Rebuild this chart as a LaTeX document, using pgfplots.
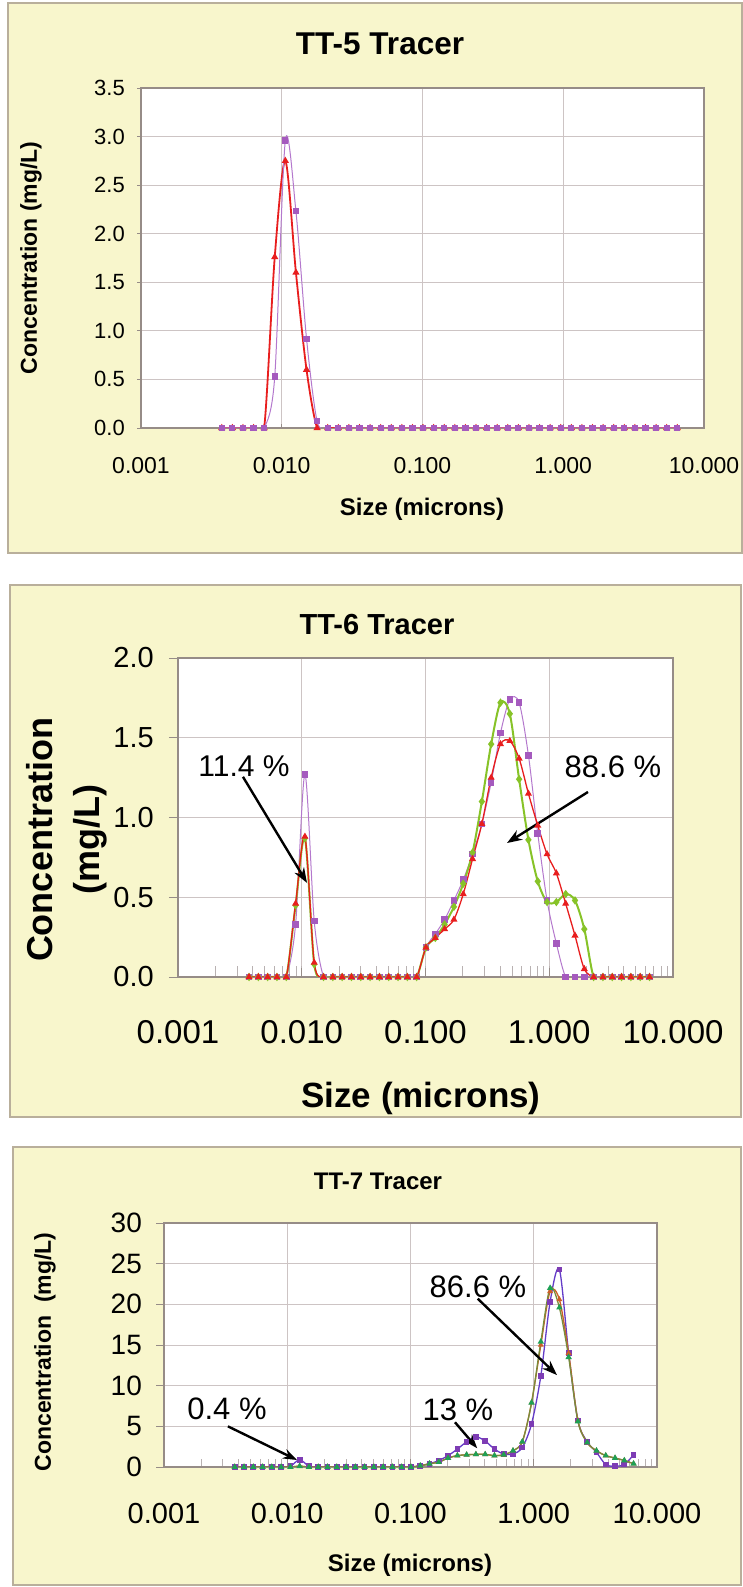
\documentclass[border=0pt]{standalone}
\usepackage{fontspec}
\setmainfont{Liberation Sans}
\usepackage{pgfplots}
\usepackage{pgfplotstable}
\pgfplotsset{compat=1.18}
\usetikzlibrary{arrows.meta}

\definecolor{panelbg}{RGB}{248,246,204}
\definecolor{panelrule}{RGB}{185,175,155}
\definecolor{gridc}{RGB}{205,196,196}
\definecolor{axisc}{RGB}{150,140,135}
\definecolor{minorc}{RGB}{185,178,178}
\definecolor{purpA}{RGB}{180,120,205}
\definecolor{purpAm}{RGB}{165,90,190}
\definecolor{redA}{RGB}{232,30,30}
\definecolor{greenB}{RGB}{135,195,40}
\definecolor{violetC}{RGB}{100,60,200}
\definecolor{violetCm}{RGB}{125,60,180}
\definecolor{greenC}{RGB}{30,160,85}
\definecolor{redC}{RGB}{205,95,40}
\definecolor{oliveC}{RGB}{120,140,60}

\newcommand{\fs}[1]{\fontsize{#1}{#1}\selectfont}

% size classes (microns) and concentrations (mg/L)
\pgfplotstableread{
x        p     r
0.00375  0     0
0.00446  0     0
0.005303 0     0
0.006307 0     0
0.0075   0     0
0.008919 0.53  1.76
0.010607 2.96  2.75
0.012613 2.23  1.60
0.015    0.92  0.60
0.017838 0.07  0
0.021213 0     0
0.025227 0     0
0.03     0     0
0.035676 0     0
0.042426 0     0
0.050454 0     0
0.06     0     0
0.071352 0     0
0.084853 0     0
0.100907 0     0
0.12     0     0
0.142705 0     0
0.169706 0     0
0.201815 0     0
0.24     0     0
0.28541  0     0
0.339411 0     0
0.403631 0     0
0.48     0     0
0.57082  0     0
0.678823 0     0
0.807261 0     0
0.96     0     0
1.14164  0     0
1.357645 0     0
1.614523 0     0
1.92     0     0
2.28328  0     0
2.71529  0     0
3.229046 0     0
3.84     0     0
4.56656  0     0
5.43058  0     0
6.458092 0     0
}\tabA

\pgfplotstableread{
x        p     r     g
0.00375  0     0     0
0.00446  0     0     0
0.005303 0     0     0
0.006307 0     0     0
0.0075   0     0     0
0.008919 0.33  0.46  0.45
0.010607 1.27  0.88  0.87
0.012613 0.35  0.09  0.08
0.015    0     0     0
0.017838 0     0     0
0.021213 0     0     0
0.025227 0     0     0
0.03     0     0     0
0.035676 0     0     0
0.042426 0     0     0
0.050454 0     0     0
0.06     0     0     0
0.071352 0     0     0
0.084853 0     0     0
0.100907 0.185 0.185 0.185
0.12     0.27  0.245 0.245
0.142705 0.36  0.30  0.33
0.169706 0.48  0.36  0.44
0.201815 0.61  0.52  0.585
0.24     0.77  0.74  0.78
0.28541  0.96  0.96  1.10
0.339411 1.22  1.25  1.46
0.403631 1.53  1.46  1.72
0.48     1.74  1.48  1.65
0.57082  1.72  1.37  1.24
0.678823 1.39  1.15  0.86
0.807261 0.90  0.95  0.60
0.96     0.48  0.77  0.47
1.14164  0.21  0.65  0.47
1.357645 0     0.46  0.52
1.614523 0     0.26  0.48
1.92     0     0.05  0.30
2.28328  0     0     0
2.71529  0     0     0
3.229046 0     0     0
3.84     0     0     0
4.56656  0     0     0
5.43058  0     0     0
6.458092 0     0     0
}\tabB

\pgfplotstableread{
x        v     r     g
0.00375  0     0     0
0.00446  0     0     0
0.005303 0     0     0
0.006307 0     0     0
0.0075   0     0     0
0.008919 0     0     0
0.010607 0.1   0     0
0.012613 0.9   0.1   0.1
0.015    0.1   0     0
0.017838 0     0     0
0.021213 0     0     0
0.025227 0     0     0
0.03     0     0     0
0.035676 0     0     0
0.042426 0     0     0
0.050454 0     0     0
0.06     0     0     0
0.071352 0     0     0
0.084853 0     0     0
0.100907 0     0     0
0.12     0.15  0.15  0.15
0.142705 0.4   0.4   0.4
0.169706 0.8   0.6   0.6
0.201815 1.4   1.1   1.1
0.24     2.2   1.4   1.4
0.28541  3.1   1.5   1.5
0.339411 3.7   1.55  1.55
0.403631 3.2   1.55  1.55
0.48     2.2   1.4   1.4
0.57082  1.6   1.5   1.5
0.678823 1.6   2.0   2.0
0.807261 2.4   3.1   3.1
0.96     5.3   7.9   7.9
1.14164  11.2  15.0  15.4
1.357645 20.3  21.6  22.0
1.614523 24.3  20.6  19.6
1.92     14.0  14.0  13.5
2.28328  5.7   5.7   5.6
2.71529  3.1   3.0   3.0
3.229046 1.8   2.0   2.0
3.84     0.3   1.4   1.4
4.56656  0.1   1.1   1.1
5.43058  0.3   0.8   0.8
6.458092 1.5   0.4   0.4
}\tabC

\begin{document}
\begin{tikzpicture}
\useasboundingbox (0pt,0pt) rectangle (743pt,1587pt);

% panel backgrounds
\filldraw[fill=panelbg, draw=panelrule, line width=1.5pt] (8pt,1034pt) rectangle (742pt,1584pt);
\filldraw[fill=panelbg, draw=panelrule, line width=1.5pt] (10pt,470pt) rectangle (741pt,1002pt);
\filldraw[fill=panelbg, draw=panelrule, line width=1.5pt] (13pt,2pt) rectangle (741pt,440pt);

% ---------- TT-5 ----------
\begin{axis}[
  scale only axis, anchor=south west,
  at={(141pt,1159pt)}, width=563pt, height=340pt,
  xmode=log, xmin=0.001, xmax=10, ymin=0, ymax=3.5,
  xtick={0.001,0.01,0.1,1,10},
  xticklabels={0.001,0.010,0.100,1.000,10.000},
  ytick={0,0.5,1,1.5,2,2.5,3,3.5},
  yticklabels={0.0,0.5,1.0,1.5,2.0,2.5,3.0,3.5},
  grid=major,
  major grid style={draw=gridc, line width=0.9pt},
  axis line style={draw=axisc, line width=1.2pt},
  axis background/.style={fill=white},
  xtick pos=bottom, ytick pos=left,
  tick style={draw=axisc, line width=0.8pt},
  xtick align=inside, ytick align=outside,
  major tick length=4pt, minor tick length=0pt,
  xticklabel style={font=\fs{23}, anchor=base, yshift=-46pt},
  yticklabel style={font=\fs{22}, anchor=east, inner sep=0pt, xshift=-12pt},
]
\addplot[redA, line width=1.8pt, smooth, tension=0.5, mark=triangle*, mark size=2.4pt,
  mark options={solid, fill=redA, draw=redA}] table[x=x, y=r]{\tabA};
\addplot[purpA, line width=1pt, smooth, tension=0.5, mark=square*, mark size=2.6pt,
  mark options={solid, fill=purpAm, draw=purpAm}] table[x=x, y=p]{\tabA};
\end{axis}
\node[anchor=base, font=\bfseries\fs{31.5}] at (380pt,1532pt) {TT-5 Tracer};
\node[anchor=base, font=\bfseries\fs{24}] at (422pt,1071pt) {Size (microns)};
\node[rotate=90, font=\bfseries\fs{23}] at (31pt,1329pt) {Concentration (mg/L)};

% ---------- TT-6 ----------
\begin{axis}[
  scale only axis, anchor=south west,
  at={(178pt,610pt)}, width=495pt, height=319pt,
  xmode=log, xmin=0.001, xmax=10, ymin=0, ymax=2,
  xtick={0.001,0.01,0.1,1,10},
  xticklabels={0.001,0.010,0.100,1.000,10.000},
  ytick={0,0.5,1,1.5,2},
  yticklabels={0.0,0.5,1.0,1.5,2.0},
  grid=major,
  major grid style={draw=gridc, line width=0.9pt},
  axis line style={draw=axisc, line width=1.2pt},
  axis background/.style={fill=white},
  xtick pos=bottom, ytick pos=left,
  tick style={draw=axisc, line width=0.8pt},
  minor tick style={draw=minorc, line width=0.8pt},
  xtick align=inside, ytick align=outside,
  major tick length=9pt, minor tick length=11pt,
  xticklabel style={font=\fs{33}, anchor=base, yshift=-67pt},
  yticklabel style={font=\fs{29}, anchor=east, inner sep=0pt, xshift=-15pt},
]
\addplot[purpA, line width=1pt, smooth, tension=0.5, mark=square*, mark size=2.8pt,
  mark options={solid, fill=purpAm, draw=purpAm}] table[x=x, y=p]{\tabB};
\addplot[greenB, line width=2pt, smooth, tension=0.5, mark=diamond*, mark size=2.6pt,
  mark options={solid, fill=greenB, draw=greenB}] table[x=x, y=g]{\tabB};
\addplot[redA, line width=1.3pt, smooth, tension=0.5, mark=triangle*, mark size=2.8pt,
  mark options={solid, fill=redA, draw=redA}] table[x=x, y=r]{\tabB};
\node[font=\fs{30}] at (axis cs:0.00342,1.324) {11.4 \%};
\draw[-{Stealth[length=15pt,width=11pt]}, line width=2.4pt]
  (axis cs:0.00335,1.255) -- (axis cs:0.01103,0.59);
\node[font=\fs{31}] at (axis cs:3.27,1.317) {88.6 \%};
\draw[-{Stealth[length=15pt,width=11pt]}, line width=2.4pt]
  (axis cs:2.056,1.16) -- (axis cs:0.4557,0.84);
\end{axis}
\node[anchor=base, font=\bfseries\fs{29}] at (377pt,952pt) {TT-6 Tracer};
\node[anchor=base, font=\bfseries\fs{35}] at (421pt,479pt) {Size (microns)};
\node[rotate=90, align=center, font=\bfseries\fontsize{36}{47}\selectfont] at (66.5pt,747pt) {Concentration\\(mg/L)};

% ---------- TT-7 ----------
\begin{axis}[
  scale only axis, anchor=south west,
  at={(164pt,120pt)}, width=493pt, height=244pt,
  xmode=log, xmin=0.001, xmax=10, ymin=0, ymax=30,
  xtick={0.001,0.01,0.1,1,10},
  xticklabels={0.001,0.010,0.100,1.000,10.000},
  ytick={0,5,10,15,20,25,30},
  yticklabels={0,5,10,15,20,25,30},
  grid=major,
  major grid style={draw=gridc, line width=0.9pt},
  axis line style={draw=axisc, line width=1.2pt},
  axis background/.style={fill=white},
  xtick pos=bottom, ytick pos=left,
  tick style={draw=axisc, line width=0.8pt},
  minor tick style={draw=minorc, line width=0.8pt},
  xtick align=inside, ytick align=outside,
  major tick length=8pt, minor tick length=8pt,
  xticklabel style={font=\fs{29}, anchor=base, yshift=-57pt},
  yticklabel style={font=\fs{28}, anchor=east, inner sep=0pt, xshift=-14pt},
]
\addplot[violetC, line width=1.3pt, smooth, tension=0.5, mark=square*, mark size=2.2pt,
  mark options={solid, fill=violetCm, draw=violetCm}] table[x=x, y=v]{\tabC};
\addplot[redC, line width=1.3pt, smooth, tension=0.5, mark=triangle*, mark size=2.2pt,
  mark options={solid, fill=redC, draw=redC}] table[x=x, y=r]{\tabC};
\addplot[oliveC, line width=1.3pt, smooth, tension=0.5, mark=triangle*, mark size=2.4pt,
  mark options={solid, fill=greenC, draw=greenC}] table[x=x, y=g]{\tabC};
\node[font=\fs{31}] at (axis cs:0.353,22.1) {86.6 \%};
\draw[-{Stealth[length=15pt,width=11pt]}, line width=2.4pt]
  (axis cs:0.351,20.7) -- (axis cs:1.544,11.3);
\node[font=\fs{31}] at (axis cs:0.2427,7.0) {13 \%};
\draw[-{Stealth[length=14pt,width=10pt]}, line width=2.4pt]
  (axis cs:0.2296,5.5) -- (axis cs:0.348,2.3);
\node[font=\fs{31}] at (axis cs:0.003245,7.1) {0.4 \%};
\draw[-{Stealth[length=14pt,width=10pt]}, line width=2.4pt]
  (axis cs:0.0033,5.0) -- (axis cs:0.012,0.86);
\end{axis}
\node[anchor=base, font=\bfseries\fs{24}] at (378pt,397pt) {TT-7 Tracer};
\node[anchor=base, font=\bfseries\fs{24}] at (410pt,16pt) {Size (microns)};
\node[rotate=90, font=\bfseries\fs{23}] at (45pt,235pt) {Concentration\ \ (mg/L)};
\end{tikzpicture}
\end{document}
